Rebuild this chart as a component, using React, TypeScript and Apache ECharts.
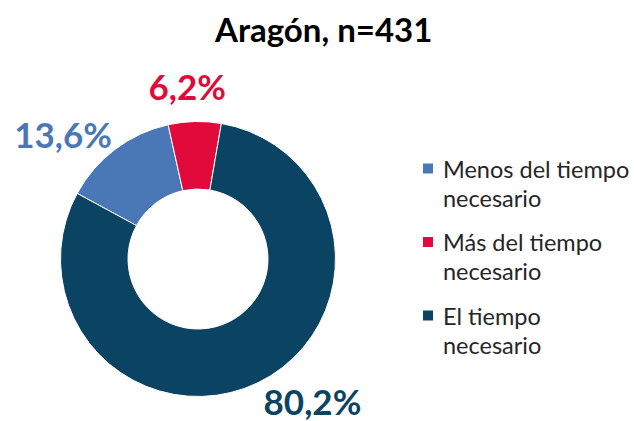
import React, { useEffect, useRef } from "react";
import * as echarts from "echarts";

const titleText = "Aragón, n=431";
const categories = ["Menos del tiempo necesario", "Más del tiempo necesario", "El tiempo necesario"];
const legendLines = [["Menos del tiempo", "necesario"], ["Más del tiempo", "necesario"], ["El tiempo", "necesario"]];
const values = [13.6, 6.2, 80.2];
const colors = ["#4a78b6", "#e20a3a", "#0b4362"];

// label nudges (style, not data)
const labelNudge = [
  { dx: 10, dy: 2, align: "right" },
  { dx: -7, dy: -13.5, align: "center" },
  { dx: -4, dy: -1.5, align: "left" },
];

const FONT = "Lato, 'Open Sans', sans-serif";

export default function App() {
  const ref = useRef<HTMLDivElement>(null);
  useEffect(() => {
    if (!ref.current) return;
    const chart = echarts.init(ref.current, null, { renderer: "svg" });
    const fmt = (v: number) => v.toFixed(1).replace(".", ",") + "%";
    chart.setOption({
      animation: false,
      backgroundColor: "#ffffff",
      title: {
        text: titleText,
        left: 215,
        top: 12,
        padding: 0,
        textStyle: { fontFamily: FONT, fontSize: 33, fontWeight: "bold", color: "#000000" },
      },
      legend: {
        orient: "vertical",
        left: 421,
        top: 125,
        padding: 0,
        itemGap: -13.5,
        itemWidth: 12,
        itemHeight: 12,
        icon: "rect",
        data: categories,
        formatter: (name: string) => {
          const i = categories.indexOf(name);
          return "\n" + legendLines[i].join("\n");
        },
        textStyle: {
          fontFamily: FONT,
          fontSize: 23.5,
          lineHeight: 29,
          color: "#262626",
          padding: [0, 0, 0, 4],
        },
        selectedMode: false,
      },
      series: [
        {
          type: "pie",
          center: [198, 259],
          radius: [70, 137.5],
          startAngle: 151.5,
          clockwise: true,
          avoidLabelOverlap: false,
          itemStyle: { borderColor: "#ffffff", borderWidth: 1 },
          label: {
            show: true,
            position: "outside",
            distanceToLabelLine: 0,
            fontFamily: FONT,
            fontSize: 35,
            lineHeight: 28,
            fontWeight: "bold",
            formatter: (p: any) => fmt(p.value),
          },
          labelLine: { show: false, length: 22, length2: 0 },
          labelLayout: (p: any) => {
            const n = labelNudge[p.dataIndex];
            return { dx: n.dx, dy: n.dy, align: n.align };
          },
          emphasis: { disabled: true },
          data: categories.map((c, i) => ({
            name: c,
            value: values[i],
            itemStyle: { color: colors[i] },
            label: { color: colors[i] },
          })),
        },
      ],
    });
    return () => chart.dispose();
  }, []);
  return (
    <div
      ref={ref}
      style={{ position: "fixed", left: 0, top: 0, width: 634, height: 421, background: "#fff" }}
    />
  );
}
